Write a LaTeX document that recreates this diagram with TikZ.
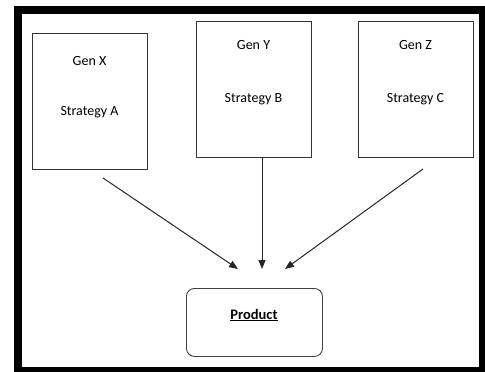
\documentclass[tikz,border=0pt]{standalone}
\usepackage{fontspec}
\setmainfont{Carlito}
\usetikzlibrary{arrows.meta}
\begin{document}
\begin{tikzpicture}[x=1pt,y=-1pt,
  genbox/.style={draw=black!80, line width=0.9pt, minimum width=115pt, minimum height=136pt, inner sep=0pt, anchor=north west},
  lbl/.style={font=\fontsize{14}{16}\selectfont, inner sep=0pt, text=black},
  prodbox/.style={draw=black!75, line width=0.9pt, rounded corners=8pt, minimum width=136pt, minimum height=68pt, inner sep=0pt, anchor=north west},
  arr/.style={draw=black!85, line width=1pt, -{Triangle[length=9pt,width=7pt]}}]
\useasboundingbox (0,0) rectangle (485,372);
\fill[white] (0,0) rectangle (485,372);
\draw[line width=8pt] (18,10) rectangle (483,371);
% boxes
\node[genbox] (gx) at (32,33) {};
\node[genbox] (gy) at (196,21) {};
\node[genbox] (gz) at (358,21) {};
\node[prodbox] (prod) at (186,288) {};
% labels
\node[lbl] (gxa) at (89.5,61) {Gen X};
\node[lbl] (gxb) at (89.5,112) {Strategy A};
\node[lbl] (gya) at (253.5,45.5) {Gen Y};
\node[lbl] (gyb) at (253.5,99) {Strategy B};
\node[lbl] (gza) at (415.5,45.5) {Gen Z};
\node[lbl] (gzb) at (415.5,99) {Strategy C};
\node[lbl, font=\fontsize{14.5}{16}\selectfont\bfseries] (pl) at (254,315) {\underline{Product}};
% arrows
\coordinate (s1) at (103,178);
\coordinate (t1) at (238,269);
\coordinate (s2) at (262,157);
\coordinate (t2) at (262,269);
\coordinate (s3) at (423,169);
\coordinate (t3) at (285,269);
\draw[arr] (s1) -- (t1);
\draw[arr] (s2) -- (t2);
\draw[arr] (s3) -- (t3);
\end{tikzpicture}
\end{document}
